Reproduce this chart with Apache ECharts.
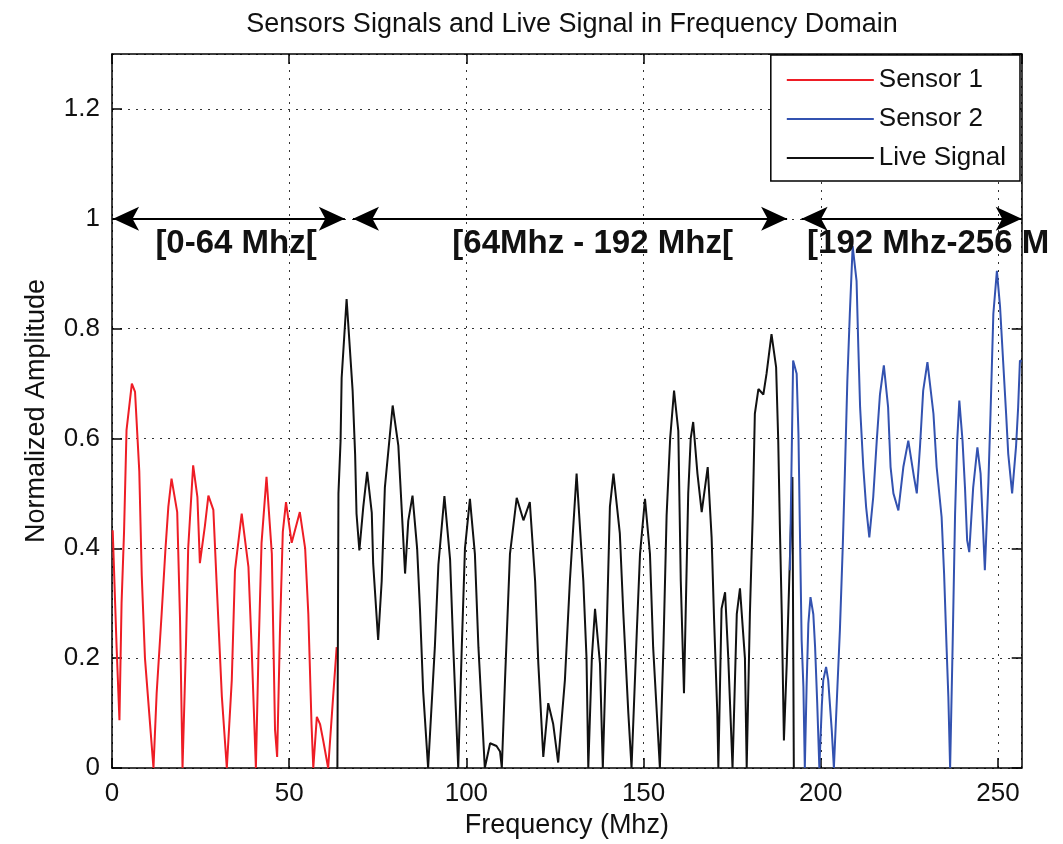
<!DOCTYPE html>
<html>
<head>
<meta charset="utf-8">
<title>Sensors Signals and Live Signal in Frequency Domain</title>
<script src="https://cdn.jsdelivr.net/npm/echarts@6/dist/echarts.min.js"></script>
<style>
  html, body { margin: 0; padding: 0; background: #fff; }
  #chart { width: 1063px; height: 844px; }
</style>
</head>
<body>
<div id="chart"></div>
<script>
// Sensor 1 spectrum, band [0, 64[ MHz
const sensor1Freq = [0.2, 1.3, 2.1, 2.7, 3.4, 4.1, 5.6, 6.5, 7.7, 8.4, 9.3, 10.5, 11.7, 12.6, 14.0, 15.1, 15.9, 16.8,
  18.4, 19.2, 19.9, 20.9, 21.5, 22.9, 24.1, 24.8, 26.2, 27.2, 28.6, 29.5, 31.0, 32.4, 33.8, 34.7, 36.6, 38.5, 39.4,
  40.6, 41.3, 42.2, 43.6, 45.1, 46.0, 46.6, 47.4, 48.2, 49.1, 50.7, 53.0, 54.5, 55.4, 56.3, 56.8, 57.8, 58.7, 59.6,
  61.0, 62.4, 63.4];
const sensor1Amp = [0.433, 0.22, 0.087, 0.30, 0.43, 0.615, 0.70, 0.685, 0.54, 0.35, 0.20, 0.10, 0.0, 0.136, 0.28, 0.40,
  0.476, 0.527, 0.466, 0.27, 0.0, 0.23, 0.40, 0.551, 0.493, 0.373, 0.44, 0.496, 0.47, 0.34, 0.13, 0.0, 0.16, 0.36,
  0.463, 0.366, 0.22, 0.0, 0.20, 0.41, 0.53, 0.39, 0.07, 0.02, 0.25, 0.43, 0.484, 0.41, 0.466, 0.40, 0.28, 0.08, 0.0,
  0.093, 0.08, 0.05, 0.0, 0.13, 0.22];

// Live signal spectrum, band [64, 192[ MHz
const liveFreq = [63.6, 63.9, 64.5, 64.8, 66.2, 67.9, 68.6, 69.0, 69.8, 70.9, 72.0, 73.3, 73.7, 75.1, 76.1, 77.0, 79.2,
  80.8, 81.3, 82.7, 83.6, 84.8, 86.1, 86.9, 87.8, 89.2, 91.1, 92.1, 93.8, 95.4, 96.3, 97.7, 98.7, 99.6, 101.0, 102.4,
  103.4, 105.2, 106.7, 108.5, 109.5, 110.0, 110.9, 112.3, 114.2, 116.1, 117.9, 119.4, 120.3, 121.7, 123.1, 124.5,
  125.9, 127.8, 129.2, 131.1, 133.0, 133.9, 134.4, 135.4, 136.3, 137.7, 138.5, 139.6, 140.5, 141.5, 143.3, 144.3,
  145.7, 146.6, 148.1, 149.0, 150.4, 151.8, 152.7, 154.6, 155.6, 156.5, 157.5, 158.6, 159.8, 160.5, 161.4, 162.6,
  163.3, 164.0, 165.2, 166.4, 168.1, 169.2, 169.9, 170.8, 171.1, 172.0, 173.0, 173.9, 175.1, 176.3, 177.2, 178.6,
  179.1, 180.0, 180.8, 181.4, 182.4, 183.8, 184.7, 186.1, 187.4, 188.0, 188.5, 189.0, 189.6, 190.4, 191.1, 192.0,
  192.4];
const liveAmp = [0.0, 0.50, 0.596, 0.71, 0.854, 0.687, 0.572, 0.463, 0.396, 0.475, 0.539, 0.465, 0.372, 0.233, 0.34,
  0.511, 0.66, 0.587, 0.526, 0.354, 0.45, 0.496, 0.40, 0.29, 0.14, 0.0, 0.22, 0.37, 0.495, 0.38, 0.22, 0.0, 0.22, 0.40,
  0.49, 0.39, 0.22, 0.0, 0.045, 0.04, 0.03, 0.0, 0.16, 0.39, 0.492, 0.451, 0.484, 0.34, 0.19, 0.02, 0.118, 0.08, 0.01,
  0.16, 0.34, 0.536, 0.34, 0.20, 0.0, 0.20, 0.29, 0.19, 0.0, 0.25, 0.476, 0.536, 0.427, 0.28, 0.10, 0.0, 0.25, 0.39,
  0.49, 0.39, 0.22, 0.0, 0.22, 0.46, 0.60, 0.687, 0.614, 0.34, 0.136, 0.50, 0.60, 0.63, 0.536, 0.466, 0.548, 0.42,
  0.27, 0.10, 0.0, 0.29, 0.32, 0.20, 0.0, 0.28, 0.327, 0.20, 0.0, 0.28, 0.46, 0.645, 0.69, 0.68, 0.718, 0.79, 0.73,
  0.596, 0.427, 0.28, 0.05, 0.19, 0.34, 0.53, 0.0];

// Sensor 2 spectrum, band [192, 256] MHz
const sensor2Freq = [191.3, 192.2, 193.2, 193.7, 194.1, 194.6, 195.1, 195.5, 196.0, 196.5, 197.1, 197.9, 198.4, 199.0,
  199.6, 200.3, 200.7, 201.5, 202.1, 203.1, 203.7, 204.7, 205.4, 206.2, 206.8, 207.5, 208.2, 209.0, 210.1, 210.6,
  211.1, 212.0, 212.8, 213.7, 214.8, 215.8, 216.7, 217.8, 219.0, 219.7, 220.5, 221.9, 223.3, 224.7, 226.3, 227.1,
  228.0, 228.9, 230.1, 231.8, 232.7, 234.1, 234.8, 235.5, 236.0, 236.5, 237.2, 237.9, 238.5, 239.1, 240.0, 240.7,
  241.3, 241.9, 243.0, 244.2, 245.1, 245.7, 246.3, 247.3, 247.9, 248.7, 249.7, 250.6, 251.5, 252.3, 252.9, 254.0,
  255.1, 255.7, 256.2, 256.7];
const sensor2Amp = [0.36, 0.742, 0.718, 0.609, 0.439, 0.233, 0.148, 0.0, 0.148, 0.263, 0.311, 0.28, 0.22, 0.118, 0.0,
  0.114, 0.16, 0.184, 0.16, 0.069, 0.0, 0.148, 0.251, 0.402, 0.536, 0.705, 0.827, 0.95, 0.887, 0.766, 0.657, 0.548,
  0.475, 0.42, 0.493, 0.596, 0.68, 0.733, 0.657, 0.548, 0.50, 0.469, 0.548, 0.596, 0.53, 0.50, 0.585, 0.687, 0.739,
  0.645, 0.548, 0.457, 0.354, 0.22, 0.13, 0.0, 0.22, 0.463, 0.596, 0.669, 0.596, 0.51, 0.415, 0.393, 0.51, 0.584,
  0.536, 0.45, 0.36, 0.52, 0.645, 0.827, 0.905, 0.839, 0.736, 0.645, 0.572, 0.50, 0.585, 0.657, 0.742, 0.74];

// Band annotations: double arrows at amplitude 1 and their captions
const bandArrowSpans = [[0.3, 65.7], [68.0, 190.5], [194.6, 256.7]];
const bandArrowLevel = 1.0;
const bandLabels = ['[0-64 Mhz[', '[64Mhz - 192 Mhz[', '[192 Mhz-256 M'];
const bandLabelStart = [12.1, 95.9, 196.0];
const bandLabelLevel = 0.955;

// Axis settings
const freqMax = 256.7;
const freqStep = 50;
const ampMax = 1.3;
const ampStep = 0.2;

const zip = (xs, ys) => xs.map((x, i) => [x, ys[i]]);

const FONT = "'Liberation Sans', Arial, Helvetica, sans-serif";
const RED = '#ee1d25';
const BLUE = '#3352b0';
const BLACK = '#111111';

const chart = echarts.init(document.getElementById('chart'), null, { renderer: 'canvas' });

// Fresh style objects per axis so nothing is shared between components
const dotted = () => ({ color: '#333', width: 1, type: [2, 6] });
const insideTicks = () => ({ show: true, inside: true, length: 10, lineStyle: { color: '#000', width: 1.5 } });
const frameLine = () => ({ show: true, onZero: false, lineStyle: { color: '#000', width: 1.5 } });

const option = {
  animation: false,
  backgroundColor: '#fff',
  textStyle: { fontFamily: FONT },
  title: {
    text: 'Sensors Signals and Live Signal in Frequency Domain',
    left: 567,
    textAlign: 'center',
    top: 6,
    textStyle: { fontFamily: FONT, fontSize: 27, fontWeight: 'normal', color: '#111' }
  },
  grid: {
    left: 112, right: 41.3, top: 54, bottom: 76,
    show: false
  },
  legend: {
    data: [
      { name: 'Sensor 1', icon: 'rect' },
      { name: 'Sensor 2', icon: 'rect' },
      { name: 'Live Signal', icon: 'rect' }
    ],
    orient: 'vertical',
    right: 43,
    top: 55,
    padding: [12, 14, 10, 16],
    itemGap: 13,
    itemWidth: 87,
    itemHeight: 2,
    backgroundColor: '#fff',
    borderColor: '#000',
    borderWidth: 1.5,
    borderRadius: 0,
    textStyle: { fontFamily: FONT, fontSize: 26, color: '#111', lineHeight: 26 }
  },
  xAxis: [
    {
      type: 'value', position: 'bottom', min: 0, max: freqMax, interval: freqStep,
      name: 'Frequency (Mhz)', nameLocation: 'middle', nameGap: 44,
      nameTextStyle: { fontFamily: FONT, fontSize: 27, color: '#111' },
      axisLine: frameLine(),
      axisTick: insideTicks(),
      axisLabel: { fontFamily: FONT, fontSize: 26, color: '#111', margin: 13, showMaxLabel: false },
      splitLine: { show: true, lineStyle: dotted() }
    },
    {
      type: 'value', position: 'top', min: 0, max: freqMax, interval: freqStep,
      axisLine: frameLine(), axisTick: insideTicks(),
      axisLabel: { show: false }, splitLine: { show: false }
    }
  ],
  yAxis: [
    {
      type: 'value', position: 'left', min: 0, max: ampMax, interval: ampStep,
      name: 'Normalized Amplitude', nameLocation: 'middle', nameGap: 62,
      nameTextStyle: { fontFamily: FONT, fontSize: 27, color: '#111' },
      axisLine: frameLine(),
      axisTick: insideTicks(),
      axisLabel: { fontFamily: FONT, fontSize: 26, color: '#111', margin: 12, showMaxLabel: false },
      splitLine: { show: true, lineStyle: dotted() }
    },
    {
      type: 'value', position: 'right', min: 0, max: ampMax, interval: ampStep,
      axisLine: frameLine(), axisTick: insideTicks(),
      axisLabel: { show: false }, splitLine: { show: false }
    }
  ],
  series: [
    {
      name: 'Sensor 1', type: 'line', data: zip(sensor1Freq, sensor1Amp),
      symbol: 'none', lineStyle: { color: RED, width: 2 }, itemStyle: { color: RED }, z: 3
    },
    {
      name: 'Live Signal', type: 'line', data: zip(liveFreq, liveAmp),
      symbol: 'none', lineStyle: { color: BLACK, width: 2 }, itemStyle: { color: BLACK }, z: 3,
      markLine: {
        silent: true,
        symbol: ['arrow', 'arrow'],
        symbolSize: [18, 26],
        label: { show: false },
        lineStyle: { color: '#000', width: 2, type: 'solid' },
        emphasis: { disabled: true },
        data: bandArrowSpans.map(([a, b]) => [
          { coord: [a, bandArrowLevel] }, { coord: [b, bandArrowLevel] }
        ])
      },
      markPoint: {
        silent: true,
        symbol: 'circle',
        symbolSize: 1,
        itemStyle: { color: 'rgba(0,0,0,0)' },
        label: {
          show: true, position: 'right', distance: 0,
          fontFamily: FONT, fontSize: 33, fontWeight: 'bold', color: '#111',
          formatter: (p) => p.name
        },
        data: bandLabels.map((t, i) => ({ name: t, coord: [bandLabelStart[i], bandLabelLevel] }))
      }
    },
    {
      name: 'Sensor 2', type: 'line', data: zip(sensor2Freq, sensor2Amp),
      symbol: 'none', lineStyle: { color: BLUE, width: 2 }, itemStyle: { color: BLUE }, z: 4
    }
  ]
};

chart.setOption(option);
</script>
</body>
</html>
